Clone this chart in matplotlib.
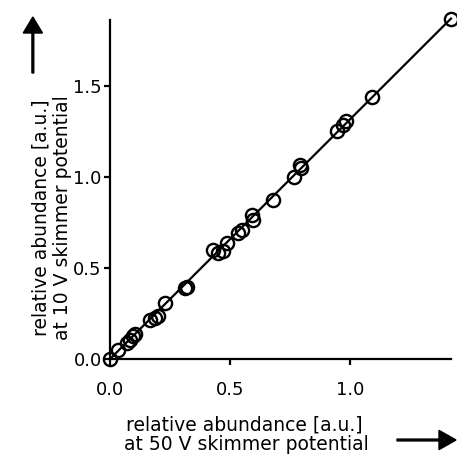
import matplotlib
matplotlib.use("Agg")
import matplotlib.pyplot as plt
import numpy as np

x50 = [0.0, 0.035, 0.069, 0.083, 0.097, 0.104, 0.167, 0.1875, 0.201, 0.229, 0.3125, 0.319,
       0.431, 0.451, 0.472, 0.486, 0.535, 0.549, 0.593, 0.597, 0.681, 0.767, 0.792, 0.794,
       0.944, 0.972, 0.983, 1.090, 1.421]
y10 = [0.0, 0.051, 0.088, 0.106, 0.128, 0.137, 0.216, 0.225, 0.234, 0.308, 0.390, 0.396,
       0.601, 0.582, 0.592, 0.637, 0.692, 0.711, 0.793, 0.766, 0.875, 0.998, 1.068, 1.049,
       1.255, 1.288, 1.306, 1.440, 1.870]
fit_x = [0.0, 1.421]
fit_y = [0.0, 1.870]
xticks = [0.0, 0.5, 1.0]
yticks = [0.0, 0.5, 1.0, 1.5]

plt.rcParams['font.family'] = ['DejaVu Sans']
fig = plt.figure(figsize=(4.57, 4.59), dpi=100)
ax = fig.add_axes([110/457, 1-359/459, 341/457, 339/459])
ax.plot(fit_x, fit_y, color='black', lw=1.6, clip_on=False, zorder=2)
ax.plot(x50, y10, 'o', mfc='none', mec='black', ms=9.5, mew=1.7, clip_on=False, zorder=3)
ax.set_xlim(0, 1.421)
ax.set_ylim(0, 1.862)
ax.set_xticks(xticks)
ax.set_yticks(yticks)
ax.set_xticklabels([f"{v:.1f}" for v in xticks])
ax.set_yticklabels([f"{v:.1f}" for v in yticks])
for s in ['top', 'right']:
    ax.spines[s].set_visible(False)
for s in ['left', 'bottom']:
    ax.spines[s].set_linewidth(1.6)
ax.tick_params(axis='both', direction='out', length=4, width=1.6, labelsize=13, colors='black', pad=2)
ax.tick_params(axis='x', pad=12)

fs = 13.5
fig.text(244/457, 1-425/459, "relative abundance [a.u.]", ha='center', va='center', fontsize=fs)
fig.text(246/457, 1-445/459, "at 50 V skimmer potential", ha='center', va='center', fontsize=fs)
fig.text(41/457, 1-218/459, "relative abundance [a.u.]", ha='center', va='center', fontsize=fs, rotation=90)
fig.text(62/457, 1-218/459, "at 10 V skimmer potential", ha='center', va='center', fontsize=fs, rotation=90)

fig.patches.append(matplotlib.patches.FancyArrow(397/457, 1-440/459, 42/457, 0, width=0.004,
                   head_width=0.042, head_length=17/457, length_includes_head=False,
                   color='black', transform=fig.transFigure, figure=fig))
fig.patches.append(matplotlib.patches.FancyArrow(33/459*457/457, 1-73/459, 0, 40/459, width=0.004,
                   head_width=0.042, head_length=16/459, length_includes_head=False,
                   color='black', transform=fig.transFigure, figure=fig))

fig.savefig("out.png", dpi=100)
